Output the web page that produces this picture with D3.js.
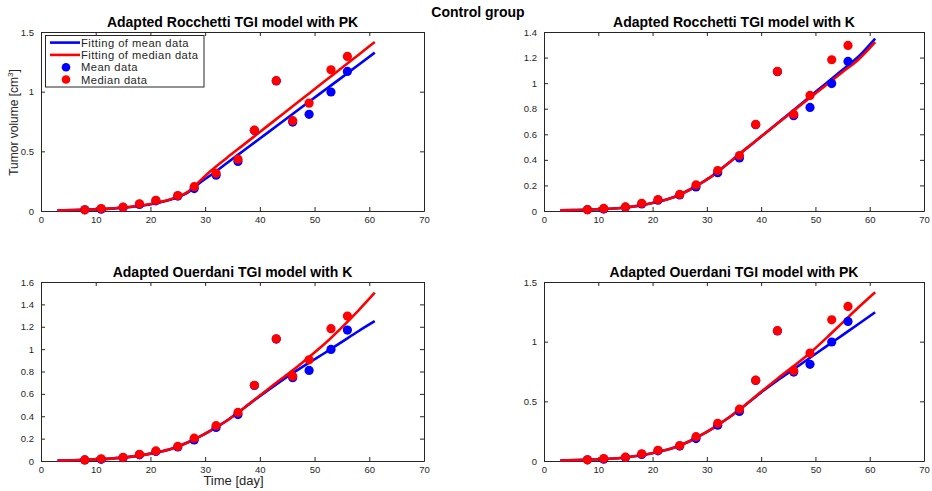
<!DOCTYPE html>
<html>
<head>
<meta charset="utf-8">
<script src="https://cdn.jsdelivr.net/npm/d3@7"></script>
<style>
  html, body { margin: 0; padding: 0; background: #fff; }
  svg { display: block; font-family: "Liberation Sans", Arial, Helvetica, sans-serif; }
</style>
</head>
<body>
<svg id="chart" width="932" height="491"></svg>
<script>
// Observation days and measured tumour volumes (cm^3)
const days = [8, 11, 15, 18, 21, 25, 28, 32, 36, 39, 43, 46, 49, 53, 56];
const meanData   = [0.010, 0.015, 0.030, 0.055, 0.085, 0.125, 0.188, 0.300, 0.415, 0.675, 1.090, 0.745, 0.810, 0.997, 1.170];
const medianData = [0.010, 0.020, 0.032, 0.060, 0.090, 0.130, 0.204, 0.316, 0.434, 0.677, 1.092, 0.757, 0.904, 1.183, 1.295];

// Simulation time grid for the fitted curves
const fitDays = [3, 6, 9, 12, 15, 18, 21, 24, 27, 29, 31, 34, 37, 40, 43, 46, 49, 52, 55, 58, 61];

// Adapted Rocchetti TGI model with PK
const rocPkMean   = [0.005, 0.008, 0.012, 0.018, 0.028, 0.042, 0.065, 0.100, 0.160, 0.235, 0.300, 0.402, 0.505, 0.608, 0.710, 0.813, 0.916, 1.018, 1.120, 1.224, 1.327];
const rocPkMedian = [0.005, 0.008, 0.012, 0.018, 0.029, 0.044, 0.067, 0.103, 0.165, 0.250, 0.335, 0.447, 0.554, 0.662, 0.770, 0.877, 0.985, 1.093, 1.200, 1.308, 1.416];
// Adapted Rocchetti TGI model with K
const rocKMean    = [0.005, 0.008, 0.012, 0.018, 0.028, 0.045, 0.072, 0.110, 0.170, 0.220, 0.275, 0.375, 0.480, 0.582, 0.686, 0.790, 0.895, 1.000, 1.105, 1.210, 1.348];
const rocKMedian  = [0.005, 0.008, 0.012, 0.018, 0.028, 0.045, 0.072, 0.110, 0.170, 0.220, 0.275, 0.375, 0.480, 0.582, 0.684, 0.785, 0.886, 0.986, 1.087, 1.187, 1.320];
// Adapted Ouerdani TGI model with K
const ouKMean     = [0.004, 0.007, 0.012, 0.019, 0.030, 0.048, 0.075, 0.112, 0.170, 0.218, 0.272, 0.362, 0.470, 0.580, 0.685, 0.785, 0.880, 0.970, 1.065, 1.160, 1.250];
const ouKMedian   = [0.004, 0.007, 0.012, 0.019, 0.030, 0.048, 0.075, 0.112, 0.170, 0.218, 0.272, 0.362, 0.470, 0.585, 0.700, 0.810, 0.930, 1.055, 1.195, 1.345, 1.505];
// Adapted Ouerdani TGI model with PK
const ouPkMean    = [0.004, 0.007, 0.012, 0.019, 0.030, 0.048, 0.076, 0.113, 0.170, 0.218, 0.272, 0.362, 0.465, 0.575, 0.675, 0.770, 0.865, 0.960, 1.055, 1.150, 1.246];
const ouPkMedian  = [0.004, 0.007, 0.012, 0.019, 0.030, 0.048, 0.076, 0.113, 0.170, 0.218, 0.272, 0.362, 0.467, 0.580, 0.690, 0.795, 0.905, 1.030, 1.160, 1.290, 1.414];

const xTicks = [0, 10, 20, 30, 40, 50, 60, 70];
const yTicksHalf  = [0, 0.5, 1, 1.5];
const yTicksFifth = [0, 0.2, 0.4, 0.6, 0.8, 1, 1.2, 1.4];
const yTicksSixteen = [0, 0.2, 0.4, 0.6, 0.8, 1, 1.2, 1.4, 1.6];

const panels = [
  { title: "Adapted Rocchetti TGI model with PK", x0: 41,  x1: 424, y0: 32,  y1: 211, yMax: 1.5, yTicks: yTicksHalf,   mean: rocPkMean, median: rocPkMedian, legend: true, ylabel: true },
  { title: "Adapted Rocchetti TGI model with K",  x0: 544, x1: 924, y0: 32,  y1: 211, yMax: 1.4, yTicks: yTicksFifth,  mean: rocKMean,  median: rocKMedian },
  { title: "Adapted Ouerdani TGI model with K",   x0: 41,  x1: 424, y0: 282, y1: 461, yMax: 1.6, yTicks: yTicksSixteen, mean: ouKMean,  median: ouKMedian, xlabel: true },
  { title: "Adapted Ouerdani TGI model with PK",  x0: 544, x1: 924, y0: 282, y1: 461, yMax: 1.5, yTicks: yTicksHalf,   mean: ouPkMean,  median: ouPkMedian }
];

const BLUE = "#0000ff", RED = "#ff0000", AXIS = "#262626";
const svg = d3.select("#chart");

svg.append("text")
  .attr("x", 478).attr("y", 17)
  .attr("text-anchor", "middle")
  .attr("font-size", 14).attr("font-weight", "bold")
  .attr("fill", "#000")
  .text("Control group");

const fmt = d => (d === 0 ? "0" : String(+d.toFixed(1)));

panels.forEach(p => {
  const x = d3.scaleLinear().domain([0, 70]).range([p.x0, p.x1]);
  const y = d3.scaleLinear().domain([0, p.yMax]).range([p.y1, p.y0]);
  const g = svg.append("g");
  const tick = 4;

  // Bottom axis (ticks point inward)
  const bx = g.append("g").attr("transform", `translate(0,${p.y1})`)
    .call(d3.axisBottom(x).tickValues(xTicks).tickSizeInner(-tick).tickSizeOuter(0).tickPadding(5));
  // Top axis (ticks only)
  const tx = g.append("g").attr("transform", `translate(0,${p.y0})`)
    .call(d3.axisTop(x).tickValues(xTicks).tickSizeInner(-tick).tickSizeOuter(0).tickFormat(""));
  // Left axis
  const ly = g.append("g").attr("transform", `translate(${p.x0},0)`)
    .call(d3.axisLeft(y).tickValues(p.yTicks).tickSizeInner(-tick).tickSizeOuter(0).tickPadding(7).tickFormat(fmt));
  // Right axis (ticks only)
  const ry = g.append("g").attr("transform", `translate(${p.x1},0)`)
    .call(d3.axisRight(y).tickValues(p.yTicks).tickSizeInner(-tick).tickSizeOuter(0).tickFormat(""));

  [bx, tx, ly, ry].forEach(a => {
    a.select(".domain").attr("stroke", AXIS).attr("stroke-width", 1);
    a.selectAll(".tick line").attr("stroke", AXIS).attr("stroke-width", 1);
    a.selectAll(".tick text").attr("fill", AXIS).attr("font-size", 9.5)
      .attr("font-family", "'Liberation Sans', Arial, sans-serif");
  });

  // Panel title
  g.append("text")
    .attr("x", (p.x0 + p.x1) / 2).attr("y", p.y0 - 5)
    .attr("text-anchor", "middle")
    .attr("font-size", 14).attr("font-weight", "bold").attr("fill", "#000")
    .text(p.title);

  const line = d3.line().x((d, i) => x(fitDays[i])).y(d => y(d)).curve(d3.curveMonotoneX);

  g.append("path").datum(p.mean).attr("d", line)
    .attr("fill", "none").attr("stroke", BLUE).attr("stroke-width", 2.6);
  g.append("path").datum(p.median).attr("d", line)
    .attr("fill", "none").attr("stroke", RED).attr("stroke-width", 2.6);

  g.append("g").selectAll("circle").data(meanData).join("circle")
    .attr("cx", (d, i) => x(days[i])).attr("cy", d => y(d)).attr("r", 4.6).attr("fill", BLUE);
  g.append("g").selectAll("circle").data(medianData).join("circle")
    .attr("cx", (d, i) => x(days[i])).attr("cy", d => y(d)).attr("r", 4.6).attr("fill", RED);

  if (p.ylabel) {
    const t = g.append("text")
      .attr("transform", `translate(18,${(p.y0 + p.y1) / 2 + 1}) rotate(-90)`)
      .attr("text-anchor", "middle")
      .attr("font-size", 12).attr("fill", AXIS);
    t.append("tspan").text("Tumor volume [cm");
    t.append("tspan").attr("font-size", 8).attr("dy", -5).text("3");
    t.append("tspan").attr("dy", 5).text("]");
  }
  if (p.xlabel) {
    g.append("text")
      .attr("x", (p.x0 + p.x1) / 2 + 1).attr("y", 485)
      .attr("text-anchor", "middle")
      .attr("font-size", 13).attr("fill", AXIS)
      .text("Time [day]");
  }

  if (p.legend) {
    const lg = g.append("g");
    lg.append("rect")
      .attr("x", 45.5).attr("y", 35.5).attr("width", 158.5).attr("height", 51.5)
      .attr("fill", "#fff").attr("stroke", AXIS).attr("stroke-width", 1);
    const items = [
      { label: "Fitting of mean data",   color: BLUE, kind: "line" },
      { label: "Fitting of median data", color: RED,  kind: "line" },
      { label: "Mean data",              color: BLUE, kind: "dot" },
      { label: "Median data",            color: RED,  kind: "dot" }
    ];
    items.forEach((it, i) => {
      const cy = 42.6 + i * 12.3;
      if (it.kind === "line") {
        lg.append("line").attr("x1", 50).attr("x2", 80).attr("y1", cy).attr("y2", cy)
          .attr("stroke", it.color).attr("stroke-width", 2.6);
      } else {
        lg.append("circle").attr("cx", 66).attr("cy", cy).attr("r", 4.3).attr("fill", it.color);
      }
      lg.append("text").attr("x", 81).attr("y", cy + 4)
        .attr("font-size", 11.2).attr("letter-spacing", 0.45).attr("fill", AXIS).text(it.label);
    });
  }
});
</script>
</body>
</html>
